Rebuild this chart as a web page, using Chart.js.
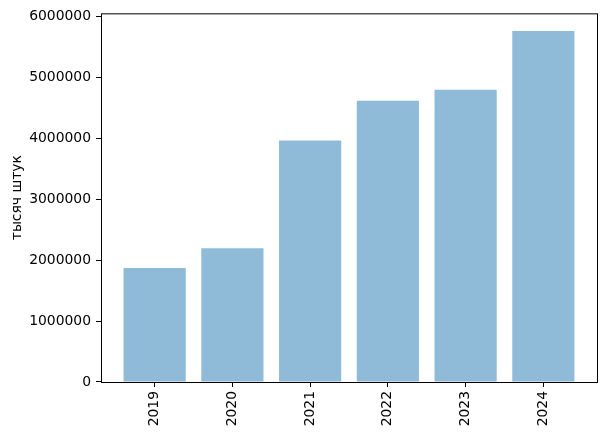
<!DOCTYPE html>
<html lang="ru">
<head>
  <meta charset="UTF-8" />
  <title>тысяч штук</title>
  <script src="https://cdn.jsdelivr.net/npm/chart.js"></script>
  <style>
    body { margin: 0; background: #fff; }
    canvas { display: block; }
  </style>
</head>
<body>
  <canvas id="chart" width="607" height="437"></canvas>
  <script>
    // данные
    const years = ['2019', '2020', '2021', '2022', '2023', '2024'];
    const values = [1869000, 2196000, 3961000, 4615000, 4795000, 5760000];
    const yTicks = [0, 1000000, 2000000, 3000000, 4000000, 5000000, 6000000];
    const yLabel = 'тысяч штук';

    const font = { family: 'DejaVu Sans', size: 13.9 };

    // рамка вокруг области графика, как в matplotlib
    const frame = {
      id: 'frame',
      afterDatasetsDraw(chart) {
        const a = chart.chartArea;
        const ctx = chart.ctx;
        ctx.save();
        ctx.strokeStyle = '#000';
        ctx.lineWidth = 1;
        ctx.strokeRect(a.left + 0.5, a.top + 0.5, a.right - a.left, a.bottom - a.top);
        ctx.restore();
      }
    };

    new Chart(document.getElementById('chart'), {
      type: 'bar',
      data: {
        datasets: [{
          data: values.map((v, i) => ({ x: i, y: v })),
          backgroundColor: 'rgba(31, 119, 180, 0.5)',
          borderColor: 'rgba(0, 0, 0, 0)',
          borderWidth: 0,
          inflateAmount: 0,
          categoryPercentage: 1,
          barPercentage: 0.8
        }]
      },
      options: {
        responsive: false,
        animation: false,
        layout: { padding: { top: 12, right: 10, left: 0, bottom: 0 } },
        plugins: { legend: { display: false }, tooltip: { enabled: false } },
        scales: {
          x: {
            type: 'linear',
            min: -0.69,
            max: 5.69,
            offset: false,
            border: { display: false },
            grid: { offset: false, drawOnChartArea: false, color: '#000', tickLength: 5, tickWidth: 1 },
            ticks: {
              autoSkip: false,
              minRotation: 90,
              maxRotation: 90,
              padding: 4,
              color: '#000',
              font: font,
              callback: v => years[v]
            },
            afterBuildTicks: s => { s.ticks = years.map((y, i) => ({ value: i })); },
            afterFit: s => { s.height = 55; }
          },
          y: {
            min: 0,
            max: 6048000,
            border: { display: false },
            grid: { drawOnChartArea: false, color: '#000', tickLength: 5, tickWidth: 1 },
            ticks: { color: '#000', font: font, padding: 5, callback: v => String(v) },
            afterBuildTicks: s => { s.ticks = yTicks.map(v => ({ value: v })); },
            afterFit: s => { s.width = 101; },
            title: {
              display: true,
              text: yLabel,
              color: '#000',
              font: font,
              padding: { top: 9, bottom: 0 }
            }
          }
        }
      },
      plugins: [frame]
    });
  </script>
</body>
</html>
